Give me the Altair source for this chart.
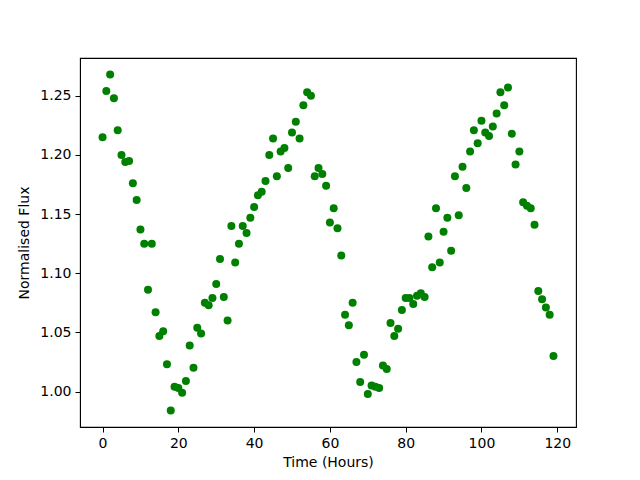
import altair as alt
import pandas as pd

hours = list(range(120))
flux = [
    1.215, 1.254, 1.268, 1.248, 1.221, 1.200, 1.194, 1.195, 1.176, 1.162,
    1.137, 1.125, 1.086, 1.125, 1.067, 1.047, 1.051, 1.023, 0.984, 1.004,
    1.003, 0.999, 1.009, 1.039, 1.020, 1.054, 1.049, 1.075, 1.073, 1.079,
    1.091, 1.112, 1.080, 1.060, 1.140, 1.109, 1.125, 1.140, 1.134, 1.147,
    1.156, 1.166, 1.169, 1.178, 1.200, 1.214, 1.182, 1.203, 1.206, 1.189,
    1.219, 1.228, 1.214, 1.242, 1.253, 1.250, 1.182, 1.189, 1.184, 1.174,
    1.143, 1.155, 1.138, 1.115, 1.065, 1.056, 1.075, 1.025, 1.008, 1.031,
    0.998, 1.005, 1.004, 1.003, 1.022, 1.019, 1.058, 1.047, 1.053, 1.069,
    1.079, 1.079, 1.074, 1.081, 1.083, 1.080, 1.131, 1.105, 1.155, 1.109,
    1.135, 1.147, 1.119, 1.182, 1.149, 1.190, 1.172, 1.203, 1.221, 1.210,
    1.229, 1.219, 1.216, 1.224, 1.235, 1.253, 1.242, 1.257, 1.218, 1.192,
    1.203, 1.160, 1.157, 1.155, 1.141, 1.085, 1.078, 1.071, 1.065, 1.030,
]
x_ticks = [0, 20, 40, 60, 80, 100, 120]
y_ticks = [1.00, 1.05, 1.10, 1.15, 1.20, 1.25]

df = pd.DataFrame({"hours": hours, "flux": flux})

font = "DejaVu Sans"

chart = alt.Chart(df).mark_circle(size=64, color="#008000", opacity=1).encode(
    x=alt.X(
        "hours:Q",
        scale=alt.Scale(domain=[-5.95, 124.95], nice=False, zero=False),
        axis=alt.Axis(
            title="Time (Hours)", values=x_ticks, grid=False, format="d",
            tickSize=5, tickColor="black", domainColor="black",
            labelColor="black", titleColor="black", labelFontSize=14,
            titleFontSize=14, titleFontWeight="normal", labelPadding=4,
            titlePadding=5, labelFont=font, titleFont=font,
        ),
    ),
    y=alt.Y(
        "flux:Q",
        scale=alt.Scale(domain=[0.970, 1.282], nice=False, zero=False),
        axis=alt.Axis(
            title="Normalised Flux", values=y_ticks, grid=False, format=".2f",
            tickSize=5, tickColor="black", domainColor="black",
            labelColor="black", titleColor="black", labelFontSize=14,
            titleFontSize=14, titleFontWeight="normal", labelPadding=4,
            titlePadding=8, labelFont=font, titleFont=font,
        ),
    ),
).properties(
    width=496,
    height=369,
    autosize=alt.AutoSizeParams(type="none"),
    padding={"left": 72, "top": 50, "right": 56, "bottom": 45},
).configure_view(
    stroke="black", strokeWidth=1.1
)

chart.save("out.html", embed_options={"renderer": "svg", "actions": False})
